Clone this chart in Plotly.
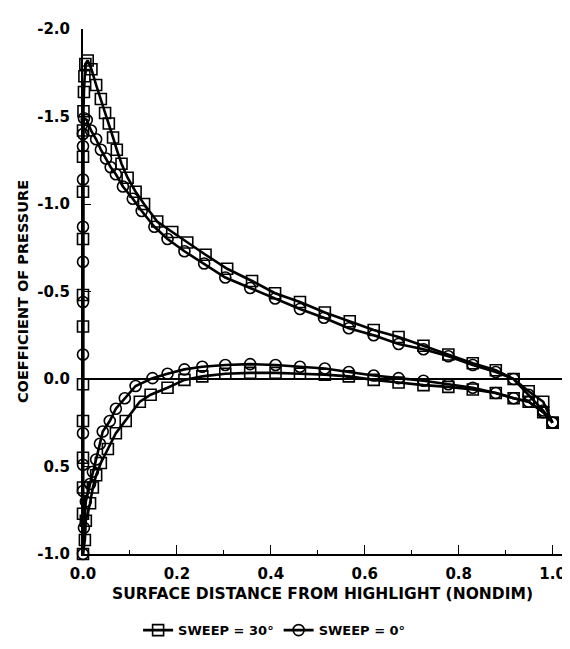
import plotly.graph_objects as go

# ---- data ----
# SWEEP = 30 deg (squares)
sq_lower_x = [1.0, 0.98, 0.949, 0.917, 0.879, 0.83, 0.778, 0.725, 0.672, 0.619, 0.566, 0.515,
              0.462, 0.41, 0.356, 0.303, 0.254, 0.216, 0.18, 0.144, 0.121, 0.091, 0.07, 0.053,
              0.038, 0.028, 0.021, 0.015, 0.006, 0.004, 0.0]
sq_lower_cp = [0.25, 0.19, 0.13, 0.11, 0.08, 0.06, 0.045, 0.035, 0.02, 0.005, -0.015, -0.025,
               -0.03, -0.035, -0.035, -0.03, -0.015, 0.005, 0.05, 0.09, 0.13, 0.24, 0.31, 0.40,
               0.48, 0.55, 0.62, 0.71, 0.81, 0.92, 1.0]
sq_stag_x = [0.0, 0.0, 0.0, 0.0, 0.0, 0.0, 0.0, 0.0, 0.0, 0.0, 0.0, 0.001, 0.002, 0.003, 0.005]
sq_stag_cp = [0.77, 0.62, 0.45, 0.24, 0.03, -0.30, -0.48, -0.80, -1.07, -1.27, -1.42, -1.53,
              -1.64, -1.73, -1.80]
sq_upper_x = [0.01, 0.018, 0.028, 0.038, 0.047, 0.055, 0.064, 0.072, 0.082, 0.095, 0.112, 0.13,
              0.158, 0.19, 0.222, 0.261, 0.307, 0.36, 0.409, 0.462, 0.515, 0.568, 0.619, 0.672,
              0.725, 0.778, 0.83, 0.879, 0.917, 0.949, 0.98, 1.0]
sq_upper_cp = [-1.82, -1.77, -1.68, -1.60, -1.52, -1.46, -1.38, -1.31, -1.23, -1.15, -1.07, -1.00,
               -0.90, -0.84, -0.78, -0.71, -0.63, -0.56, -0.49, -0.44, -0.38, -0.33, -0.28, -0.24,
               -0.19, -0.14, -0.09, -0.05, 0.0, 0.07, 0.13, 0.25]

# SWEEP = 0 deg (circles)
ci_lower_x = [1.0, 0.98, 0.949, 0.917, 0.879, 0.83, 0.778, 0.725, 0.672, 0.619, 0.566, 0.515,
              0.462, 0.41, 0.356, 0.303, 0.254, 0.216, 0.18, 0.148, 0.112, 0.089, 0.07, 0.057,
              0.042, 0.036, 0.028, 0.021, 0.015, 0.006, 0.002, 0.0]
ci_lower_cp = [0.25, 0.19, 0.13, 0.11, 0.08, 0.05, 0.03, 0.01, -0.005, -0.02, -0.04, -0.06,
               -0.07, -0.08, -0.085, -0.08, -0.07, -0.055, -0.03, -0.005, 0.04, 0.11, 0.17, 0.24,
               0.30, 0.37, 0.46, 0.53, 0.60, 0.70, 0.85, 1.0]
ci_stag_x = [0.0, 0.0, 0.0, 0.0, 0.0, 0.0, 0.0, 0.0, 0.0, 0.0, 0.002]
ci_stag_cp = [0.64, 0.49, 0.31, -0.14, -0.44, -0.67, -0.87, -1.14, -1.33, -1.40, -1.49]
ci_upper_x = [0.008, 0.017, 0.028, 0.038, 0.049, 0.059, 0.07, 0.085, 0.106, 0.125, 0.152, 0.18,
              0.216, 0.258, 0.303, 0.356, 0.409, 0.462, 0.513, 0.566, 0.619, 0.672, 0.725,
              0.778, 0.83, 0.879, 0.917, 0.949, 0.98, 1.0]
ci_upper_cp = [-1.48, -1.42, -1.37, -1.31, -1.26, -1.21, -1.17, -1.10, -1.03, -0.96, -0.87, -0.80,
               -0.73, -0.66, -0.58, -0.52, -0.46, -0.40, -0.35, -0.29, -0.25, -0.20, -0.17,
               -0.13, -0.08, -0.04, 0.0, 0.09, 0.18, 0.25]

x_tickvals = [0.0, 0.2, 0.4, 0.6, 0.8, 1.0]
x_ticktext = ["0.0", "0.2", "0.4", "0.6", "0.8", "1.0"]
y_tickvals = [-2.0, -1.5, -1.0, -0.5, 0.0, 0.5, 1.0]
y_ticktext = ["-2.0", "-1.5", "-1.0", "-0.5", "0.0", "0.5", "-1.0"]

FONT = "DejaVu Sans"

fig = go.Figure()
fig.add_trace(go.Scatter(
    x=sq_lower_x + sq_stag_x + sq_upper_x,
    y=sq_lower_cp + sq_stag_cp + sq_upper_cp,
    mode="lines+markers", name="SWEEP = 30°",
    line=dict(color="black", width=2.6),
    marker=dict(symbol="square-open", size=11, color="black", line=dict(width=1.6)),
    cliponaxis=False,
))
fig.add_trace(go.Scatter(
    x=ci_lower_x + ci_stag_x + ci_upper_x,
    y=ci_lower_cp + ci_stag_cp + ci_upper_cp,
    mode="lines+markers", name="SWEEP = 0°",
    line=dict(color="black", width=2.6),
    marker=dict(symbol="circle-open", size=11, color="black", line=dict(width=1.6)),
    cliponaxis=False,
))

fig.update_layout(
    width=570, height=649,
    margin=dict(l=75, r=15, t=15, b=94),
    paper_bgcolor="white", plot_bgcolor="white",
    font=dict(family=FONT, color="black", size=14),
    showlegend=True,
    legend=dict(orientation="h", x=0.40, y=-0.145, xanchor="center", yanchor="middle",
                font=dict(family=FONT, size=13, weight="bold"), bgcolor="rgba(0,0,0,0)",
                itemwidth=30, tracegroupgap=0),
    xaxis=dict(
        range=[0, 1.02], tickvals=x_tickvals, ticktext=x_ticktext,
        showline=True, linecolor="black", linewidth=1.5, mirror=False,
        ticks="inside", ticklen=9, tickcolor="black", tickwidth=1.2,
        minor=dict(dtick=0.1, ticks="inside", ticklen=4, tickcolor="black", tickwidth=1),
        showgrid=False, zeroline=False,
        ticklabelstandoff=5,
        tickfont=dict(family=FONT, size=15, weight="bold"),
        title=dict(text="SURFACE DISTANCE FROM HIGHLIGHT (NONDIM)",
                   font=dict(family=FONT, size=15.5, weight="bold"), standoff=6),
    ),
    yaxis=dict(
        range=[1.0, -2.0], tickvals=y_tickvals, ticktext=y_ticktext,
        showline=True, linecolor="black", linewidth=2, mirror=False,
        ticks="inside", ticklen=8, tickcolor="black", tickwidth=1.2,
        showgrid=False, zeroline=True, zerolinecolor="black", zerolinewidth=1.5,
        ticklabelstandoff=8,
        tickfont=dict(family=FONT, size=15, weight="bold"),
        title=dict(text="COEFFICIENT OF PRESSURE",
                   font=dict(family=FONT, size=14.5, weight="bold"), standoff=5),
    ),
)

fig.write_html("out.html")
